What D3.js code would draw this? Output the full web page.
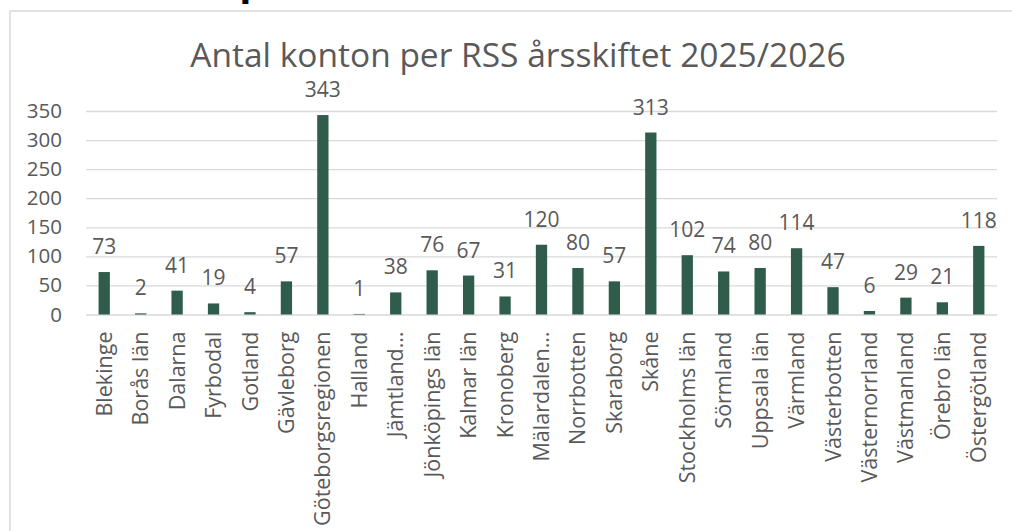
<!DOCTYPE html>
<html>
<head>
<meta charset="utf-8">
<script src="https://cdn.jsdelivr.net/npm/d3@7/dist/d3.min.js"></script>
<style>
    html, body { margin: 0; padding: 0; background: #ffffff; }
    #chart { width: 1012px; height: 531px; overflow: hidden; }
    text { font-family: "Open Sans", "Noto Sans", sans-serif; }
</style>
</head>
<body>
<div id="chart"></div>
<script>
/* --------------------------------------------------------- */
/* Data.                                                     */
/* --------------------------------------------------------- */
var regions = ["Blekinge", "Borås län", "Dalarna", "Fyrbodal", "Gotland",
               "Gävleborg", "Göteborgsregionen", "Halland", "Jämtland…",
               "Jönköpings län", "Kalmar län", "Kronoberg", "Mälardalen…",
               "Norrbotten", "Skaraborg", "Skåne", "Stockholms län",
               "Sörmland", "Uppsala län", "Värmland", "Västerbotten",
               "Västernorrland", "Västmanland", "Örebro län", "Östergötland"];
var accounts = [73, 2, 41, 19, 4,
                57, 343, 1, 38,
                76, 67, 31, 120,
                80, 57, 313, 102,
                74, 80, 114, 47,
                6, 29, 21, 118];
var yTicks = [0, 50, 100, 150, 200, 250, 300, 350];
var title  = "Antal konton per RSS årsskiftet 2025/2026";

/* --------------------------------------------------------- */
/* Setup.                                                    */
/* --------------------------------------------------------- */
var width  = 1012;
var height = 531;
var grey   = "#595959";
var gridColor = "#d9d9d9";
var barColor  = "#2f5c4b";

var svg = d3.select("#chart").append("svg")
          .attr("width",  width)
          .attr("height", height);

// Cut-off heading from the page above the chart.
svg.append("text")
   .attr("x", 252).attr("y", -5)
   .attr("text-anchor", "middle")
   .attr("font-size", 40).attr("font-weight", "bold")
   .attr("fill", "#000")
   .text("p");

// Chart frame (right and bottom edges fall outside the picture).
svg.append("rect")
   .attr("x", 10).attr("y", 11)
   .attr("width", 1100).attr("height", 600)
   .attr("fill", "#fff")
   .attr("stroke", gridColor).attr("stroke-width", 1.5);

svg.append("text")
   .attr("x", 518).attr("y", 67)
   .attr("text-anchor", "middle")
   .attr("font-size", 33.5)
   .attr("fill", grey)
   .text(title);

/* --------------------------------------------------------- */
/* Scales.                                                   */
/* --------------------------------------------------------- */
var x = d3.scaleBand()
          .domain(regions)
          .range([86, 997])
          .paddingInner(0.69)
          .paddingOuter(0.345);

var y = d3.scaleLinear()
          .domain([0, 350])
          .range([314.5, 111]);

/* --------------------------------------------------------- */
/* Grid and axes.                                            */
/* --------------------------------------------------------- */
var yAxis = d3.axisLeft(y)
              .tickValues(yTicks)
              .tickSize(-(997 - 86))
              .tickPadding(24);

var gy = svg.append("g")
            .attr("transform", "translate(86,0)")
            .call(yAxis);
gy.select(".domain").remove();
gy.selectAll(".tick line")
  .attr("stroke", gridColor).attr("stroke-width", 1.3);
gy.selectAll(".tick text")
  .attr("font-size", 20.5).attr("fill", grey)
  .attr("font-family", "Open Sans");

var xAxis = d3.axisBottom(x).tickSize(0).tickPadding(0);
var gx = svg.append("g")
            .attr("transform", "translate(0," + y(0) + ")")
            .call(xAxis);
gx.select(".domain").remove();
gx.selectAll(".tick text")
  .attr("font-size", 21.5).attr("fill", grey)
  .attr("font-family", "Open Sans")
  .attr("text-anchor", "end")
  .attr("dy", "0.35em")
  .attr("transform", "translate(0,17) rotate(-90)")
  .attr("x", 0).attr("y", 0);

/* --------------------------------------------------------- */
/* Bars and labels.                                          */
/* --------------------------------------------------------- */
var data = regions.map(function(r, i) { return {name: r, value: accounts[i]}; });

svg.selectAll("rect.bar")
   .data(data).enter().append("rect")
   .attr("class", "bar")
   .attr("x", function(d) { return x(d.name); })
   .attr("width", x.bandwidth())
   .attr("y", function(d) { return y(d.value); })
   .attr("height", function(d) { return y(0) - y(d.value); })
   .attr("fill", barColor);

svg.selectAll("text.value")
   .data(data).enter().append("text")
   .attr("class", "value")
   .attr("x", function(d) { return x(d.name) + x.bandwidth() / 2; })
   .attr("y", function(d) { return y(d.value) - 18; })
   .attr("text-anchor", "middle")
   .attr("font-size", 21)
   .attr("fill", grey)
   .text(function(d) { return d.value; });
</script>
</body>
</html>
